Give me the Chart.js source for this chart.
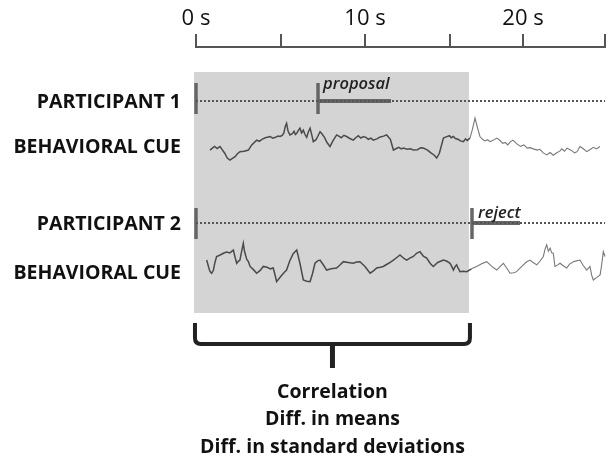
<!DOCTYPE html>
<html>
<head>
<meta charset="utf-8">
<script src="https://cdn.jsdelivr.net/npm/chart.js@4.4.1/dist/chart.umd.min.js"></script>
<style>
  html, body { margin: 0; padding: 0; background: #fff; }
  #wrap { position: relative; width: 608px; height: 464px; }
</style>
</head>
<body>
<div id="wrap"><canvas id="cueChart"></canvas></div>
<script>
// time axis (seconds) as drawn in the figure
const tickValues = [0, 5, 10, 15, 19.35, 24.2];
const tickLabels = ['0 s', '', '10 s', '', '20 s', ''];

const rowLabels = ['PARTICIPANT 1', 'BEHAVIORAL CUE', 'PARTICIPANT 2', 'BEHAVIORAL CUE'];

// participant events: start + action time, action label, end of action bar
const p1Events = [0, 7.22];
const p1Action = 'proposal';
const p1ActionEnd = 11.54;
const p2Events = [0, 16.33];
const p2Action = 'reject';
const p2ActionEnd = 19.17;

// analysis window (shaded)
const windowRange = [-0.12, 16.15];
const summaryLines = ['Correlation', 'Diff. in means', 'Diff. in standard deviations'];

// behavioral cue traces (arbitrary units, up = higher)
const cue1Time = [0.83, 1.0, 1.1, 1.25, 1.42, 1.55, 1.7, 1.85, 2.01, 2.15, 2.3, 2.45, 2.6, 2.85, 3.1, 3.3, 3.59, 3.75, 3.9, 4.1, 4.38, 4.55, 4.7, 4.85, 4.97, 5.1, 5.2, 5.28, 5.36, 5.45, 5.56, 5.7, 5.8, 5.88, 5.96, 6.05, 6.15, 6.25, 6.35, 6.45, 6.55, 6.65, 6.75, 6.85, 6.94, 7.1, 7.2, 7.34, 7.45, 7.6, 7.75, 7.93, 8.1, 8.32, 8.45, 8.6, 8.75, 8.91, 9.1, 9.31, 9.45, 9.6, 9.75, 9.9, 10.05, 10.2, 10.35, 10.49, 10.7, 10.9, 11.1, 11.28, 11.5, 11.68, 11.85, 12.0, 12.15, 12.27, 12.5, 12.7, 12.86, 13.1, 13.3, 13.45, 13.7, 13.9, 14.1, 14.24, 14.4, 14.64, 14.8, 15.0, 15.1, 15.23, 15.35, 15.5, 15.65, 15.82, 15.95, 16.05, 16.21, 16.35, 16.51, 16.65, 16.8, 16.95, 17.1, 17.25, 17.4, 17.6, 17.8, 17.99, 18.15, 18.3, 18.45, 18.58, 18.75, 18.97, 19.2, 19.4, 19.6, 19.76, 19.95, 20.2, 20.35, 20.55, 20.75, 20.95, 21.14, 21.3, 21.54, 21.65, 21.8, 21.95, 22.13, 22.25, 22.4, 22.55, 22.72, 22.9, 23.12, 23.3, 23.51, 23.7, 23.9, 24.05, 24.2];
const cue1Value = [3.3, 3.9, 4.2, 3.7, 4.2, 3.4, 2.5, 1.3, 0.8, 1.2, 1.6, 2.4, 2.9, 3.0, 3.3, 4.6, 5.8, 5.5, 6.0, 6.4, 6.7, 6.3, 6.5, 6.8, 6.7, 7.0, 7.6, 9.2, 10.0, 8.0, 7.1, 7.4, 8.0, 7.2, 7.5, 8.2, 8.8, 7.6, 8.3, 7.2, 6.5, 7.9, 8.8, 7.1, 5.4, 5.9, 6.7, 7.9, 7.4, 6.5, 5.2, 4.2, 5.6, 7.1, 6.8, 6.4, 7.0, 6.7, 6.2, 5.8, 6.4, 6.9, 6.3, 6.7, 6.5, 6.0, 6.3, 5.8, 6.1, 6.6, 6.8, 7.1, 6.0, 3.3, 3.7, 4.0, 3.6, 3.8, 3.5, 3.6, 3.3, 3.4, 3.9, 3.8, 3.3, 2.6, 2.0, 1.3, 2.5, 6.3, 6.6, 6.9, 6.4, 6.7, 6.2, 6.0, 5.6, 5.4, 6.1, 5.7, 6.3, 8.4, 11.3, 9.0, 6.7, 6.0, 5.6, 5.9, 5.4, 5.8, 6.3, 5.7, 5.0, 5.2, 4.6, 5.3, 5.8, 4.9, 4.2, 4.6, 3.8, 3.9, 3.6, 3.3, 3.5, 2.6, 2.1, 2.7, 2.0, 2.5, 3.1, 3.6, 3.0, 3.8, 3.4, 3.1, 2.6, 2.9, 4.2, 3.7, 2.9, 3.4, 4.0, 3.6, 4.2];
const cue2Time = [0.63, 0.75, 0.83, 0.93, 1.03, 1.12, 1.22, 1.4, 1.62, 1.8, 2.0, 2.21, 2.31, 2.41, 2.5, 2.6, 2.7, 2.8, 2.85, 2.9, 3.0, 3.1, 3.2, 3.4, 3.59, 3.8, 3.98, 4.2, 4.4, 4.57, 4.68, 4.77, 5.0, 5.2, 5.36, 5.55, 5.75, 5.96, 6.15, 6.35, 6.55, 6.75, 6.9, 7.04, 7.2, 7.34, 7.55, 7.73, 8.0, 8.32, 8.5, 8.72, 9.0, 9.31, 9.5, 9.7, 10.0, 10.3, 10.5, 10.69, 10.9, 11.08, 11.4, 11.68, 11.9, 12.07, 12.3, 12.47, 12.65, 12.86, 13.05, 13.25, 13.45, 13.65, 13.85, 14.04, 14.3, 14.64, 14.85, 15.03, 15.13, 15.23, 15.32, 15.42, 15.52, 15.62, 15.8, 16.02, 16.3, 16.61, 16.9, 17.2, 17.5, 17.79, 18.0, 18.19, 18.4, 18.58, 18.8, 18.97, 19.17, 19.37, 19.55, 19.76, 19.95, 20.16, 20.35, 20.55, 20.65, 20.75, 20.85, 20.95, 21.05, 21.14, 21.24, 21.4, 21.54, 21.75, 21.93, 22.1, 22.33, 22.5, 22.72, 22.9, 23.12, 23.22, 23.31, 23.41, 23.51, 23.7, 23.91, 24.0, 24.1, 24.2];
const cue2Value = [5.8, 4.0, 2.9, 2.5, 3.3, 5.2, 6.7, 7.0, 7.5, 7.8, 7.6, 8.3, 6.5, 5.0, 5.5, 5.8, 8.0, 10.0, 8.5, 7.5, 6.0, 5.4, 4.2, 3.4, 2.5, 3.2, 4.2, 4.0, 3.6, 3.8, 2.0, 0.4, 1.6, 2.6, 3.3, 5.6, 7.4, 8.3, 5.0, 0.8, 0.5, 0.4, 2.5, 5.0, 5.6, 5.8, 4.5, 3.3, 3.6, 3.8, 4.5, 5.4, 5.2, 5.0, 5.3, 5.4, 4.2, 2.5, 3.1, 3.8, 4.0, 4.2, 5.0, 5.8, 6.5, 7.1, 6.2, 5.8, 6.3, 6.7, 7.5, 7.9, 6.8, 6.3, 5.0, 4.2, 5.2, 5.8, 5.5, 5.0, 4.2, 3.3, 4.1, 4.6, 3.7, 2.9, 3.0, 2.9, 3.6, 4.2, 4.9, 5.4, 4.2, 3.3, 4.2, 5.0, 3.7, 2.5, 2.6, 2.9, 3.8, 4.6, 5.3, 5.8, 5.2, 4.6, 5.5, 6.7, 8.5, 9.6, 8.0, 8.8, 7.6, 7.5, 4.2, 4.6, 5.0, 4.3, 3.8, 4.8, 5.4, 5.6, 5.8, 4.5, 3.3, 3.8, 4.2, 2.0, 0.8, 1.4, 2.1, 4.5, 7.9, 6.7];

// vertical layout in row units (y axis reversed, 0 = axis line)
const rows = {
  shadeTop: 0.94, bottom: 10,
  p1: 2.03, p1Top: 1.35, p1Bot: 2.52,
  cue1Base: 4.37, cue1Label: 3.72,
  p2: 6.62, p2Top: 6.05, p2Bot: 7.22,
  cue2Base: 8.88, cue2Label: 8.46,
  gain: 0.15
};

const pts = (t, v, base) => t.map((x, i) => ({ x: x, y: base - rows.gain * v[i] }));
const seg = (x0, y0, x1, y1) => [{ x: x0, y: y0 }, { x: x1, y: y1 }];

const cueSegment = {
  borderColor: ctx => ctx.p0.parsed.x < windowRange[1] ? '#4a4a4a' : '#777',
  borderWidth: ctx => ctx.p0.parsed.x < windowRange[1] ? 1.5 : 1.1
};

const datasets = [
  { data: seg(0, rows.p1, 24.2, rows.p1), borderColor: '#555', borderWidth: 2, borderDash: [2, 2] },
  { data: seg(0, rows.p2, 24.2, rows.p2), borderColor: '#555', borderWidth: 2, borderDash: [2, 2] },
  { data: seg(p1Events[1], rows.p1, p1ActionEnd, rows.p1), borderColor: '#666', borderWidth: 4 },
  { data: seg(p2Events[1], rows.p2, p2ActionEnd, rows.p2), borderColor: '#666', borderWidth: 4 },
  { data: pts(cue1Time, cue1Value, rows.cue1Base), borderColor: '#4a4a4a', borderWidth: 1.5, segment: cueSegment },
  { data: pts(cue2Time, cue2Value, rows.cue2Base), borderColor: '#4a4a4a', borderWidth: 1.5, segment: cueSegment }
];
p1Events.forEach(t => datasets.push({ data: seg(t, rows.p1Top, t, rows.p1Bot), borderColor: '#666', borderWidth: 3.5 }));
p2Events.forEach(t => datasets.push({ data: seg(t, rows.p2Top, t, rows.p2Bot), borderColor: '#666', borderWidth: 3.5 }));
datasets.forEach(d => { d.pointRadius = 0; d.tension = 0; d.clip = false; });

const decorations = {
  id: 'decorations',
  beforeDatasetsDraw(chart) {
    const { ctx } = chart;
    const x = chart.scales.x, y = chart.scales.y;
    const x0 = x.getPixelForValue(windowRange[0]);
    const x1 = x.getPixelForValue(windowRange[1]);
    const y0 = y.getPixelForValue(rows.shadeTop);
    const y1 = y.getPixelForValue(rows.bottom);
    ctx.save();
    ctx.fillStyle = '#d4d4d4';
    ctx.fillRect(x0, y0, x1 - x0, y1 - y0);
    ctx.restore();
  },
  afterDraw(chart) {
    const { ctx, chartArea } = chart;
    const x = chart.scales.x, y = chart.scales.y;
    ctx.save();
    // row labels
    ctx.fillStyle = '#111';
    ctx.font = 'bold 19.5px "Open Sans"';
    ctx.textAlign = 'right';
    ctx.textBaseline = 'middle';
    const labelY = [rows.p1, rows.cue1Label, rows.p2, rows.cue2Label];
    rowLabels.forEach((s, i) => ctx.fillText(s, 181, y.getPixelForValue(labelY[i]) + 1));

    // action labels
    ctx.font = 'italic 600 16.5px "Open Sans"';
    ctx.fillStyle = '#222';
    ctx.textAlign = 'left';
    ctx.fillText(p1Action, x.getPixelForValue(p1Events[1]) + 5, y.getPixelForValue(rows.p1Top) + 1);
    ctx.fillText(p2Action, x.getPixelForValue(p2Events[1]) + 6, y.getPixelForValue(rows.p2Top) + 5);

    // brace under the window
    const bl = x.getPixelForValue(windowRange[0]) + 1;
    const br = x.getPixelForValue(windowRange[1]) + 1;
    const bm = (bl + br) / 2;
    const top = chartArea.bottom + 10, mid = chartArea.bottom + 31, stem = chartArea.bottom + 55, r = 6;
    ctx.strokeStyle = '#222';
    ctx.lineWidth = 4;
    ctx.beginPath();
    ctx.moveTo(bl, top);
    ctx.lineTo(bl, mid - r);
    ctx.quadraticCurveTo(bl, mid, bl + r, mid);
    ctx.lineTo(br - r, mid);
    ctx.quadraticCurveTo(br, mid, br, mid - r);
    ctx.lineTo(br, top);
    ctx.stroke();
    ctx.lineWidth = 5;
    ctx.beginPath();
    ctx.moveTo(bm, mid);
    ctx.lineTo(bm, stem);
    ctx.stroke();

    // summary text
    ctx.fillStyle = '#111';
    ctx.font = 'bold 19.5px "Open Sans"';
    ctx.textAlign = 'center';
    summaryLines.forEach((s, i) => ctx.fillText(s, bm, chartArea.bottom + 79 + i * 27.5));
    ctx.restore();
  }
};

new Chart(document.getElementById('cueChart'), {
  type: 'line',
  data: { datasets: datasets },
  options: {
    responsive: true,
    maintainAspectRatio: false,
    animation: false,
    layout: { padding: { left: 196, right: 3, top: 0, bottom: 151 } },
    plugins: { legend: { display: false }, tooltip: { enabled: false } },
    scales: {
      x: {
        type: 'linear',
        position: 'top',
        min: 0,
        max: 24.2,
        afterBuildTicks: scale => { scale.ticks = tickValues.map(v => ({ value: v })); },
        afterFit: scale => { scale.height = 47; },
        ticks: {
          autoSkip: false,
          maxRotation: 0,
          padding: 2,
          color: '#111',
          font: { family: 'Open Sans', size: 22 },
          callback: (v, i) => tickLabels[i]
        },
        grid: { drawOnChartArea: false, drawTicks: true, tickLength: 13, color: '#555', lineWidth: 2 },
        border: { display: true, color: '#555', width: 2 }
      },
      y: {
        type: 'linear',
        display: false,
        reverse: true,
        min: 0,
        max: rows.bottom
      }
    }
  },
  plugins: [decorations]
});
</script>
</body>
</html>
